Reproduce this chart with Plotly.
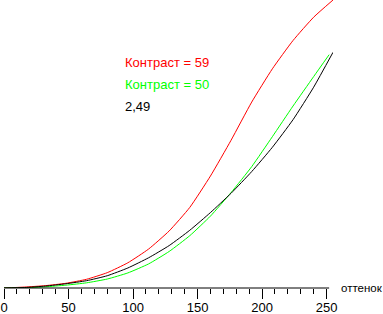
import plotly.graph_objects as go

# shade levels (x axis "оттенок")
shade = [0, 16, 32, 48, 64, 80, 96, 112, 128, 144, 160, 176, 192, 208, 224, 240, 255]
shade_green = [0, 16, 32, 48, 64, 80, 96, 112, 128, 144, 160, 176, 192, 208, 224, 240, 252]

# relative brightness (reference curve end = 1)
contrast59 = [0, 0.004, 0.010, 0.020, 0.037, 0.065, 0.107, 0.165, 0.242, 0.342, 0.475,
              0.627, 0.789, 0.93, 1.05, 1.149, 1.222]
contrast50 = [0, 0.001, 0.005, 0.012, 0.022, 0.038, 0.064, 0.102, 0.155, 0.222, 0.305,
              0.405, 0.515, 0.642, 0.772, 0.897, 0.99]
gamma249 = [0, 0.002, 0.008, 0.018, 0.031, 0.052, 0.085, 0.128, 0.180, 0.245, 0.320,
            0.402, 0.494, 0.597, 0.714, 0.852, 1.0]

tick_vals = [0, 50, 100, 150, 200, 250]
tick_text = ["0", "50", "100", "150", "200", "250"]

labels = ["Контраст = 59", "Контраст = 50", "2,49"]
label_colors = ["#ff0000", "#00ff00", "#000000"]
axis_title = "оттенок"

FONT = "Liberation Sans, Arial, sans-serif"

fig = go.Figure()
line_kw = dict(width=1, shape="spline", smoothing=0.5)
fig.add_trace(go.Scatter(x=shade, y=contrast59, mode="lines", line=dict(color="#ff0000", **line_kw)))
fig.add_trace(go.Scatter(x=shade_green, y=contrast50, mode="lines", line=dict(color="#00ff00", **line_kw)))
fig.add_trace(go.Scatter(x=shade, y=gamma249, mode="lines", line=dict(color="#000000", **line_kw)))

label_y = [0.783, 0.7066, 0.629]
for txt, col, yy in zip(labels, label_colors, label_y):
    fig.add_annotation(x=0.3617, y=yy, xref="paper", yref="paper", text=txt,
                       showarrow=False, xanchor="left", yanchor="middle",
                       font=dict(family=FONT, size=13, color=col))

fig.add_annotation(x=1.018, y=0, xref="paper", yref="paper", text=axis_title,
                   showarrow=False, xanchor="left", yanchor="middle",
                   font=dict(family=FONT, size=11.5, color="#000000"))

# axis baseline (ends just past the last tick)
fig.add_shape(type="line", xref="x", yref="paper", x0=0, x1=252, y0=0, y1=0,
              line=dict(color="#000000", width=1))

fig.update_layout(
    template="none",
    width=383, height=314,
    margin=dict(l=4, r=50, t=0, b=26, autoexpand=False),
    paper_bgcolor="white", plot_bgcolor="white",
    showlegend=False,
    xaxis=dict(range=[0, 255], showgrid=False, zeroline=False, showline=False,
               tickmode="array", tickvals=tick_vals, ticktext=tick_text,
               ticks="outside", ticklen=10, tickwidth=1, tickcolor="#000000",
               ticklabelstandoff=-3,
               minor=dict(dtick=10, ticks="outside", ticklen=5, tickwidth=1,
                          tickcolor="#000000", showgrid=False, tick0=0),
               tickfont=dict(family=FONT, size=13, color="#000000"),
               automargin=False, fixedrange=True),
    yaxis=dict(range=[0, 1.222], visible=False, automargin=False, fixedrange=True),
)

fig.write_html("out.html", config={"displayModeBar": False})
